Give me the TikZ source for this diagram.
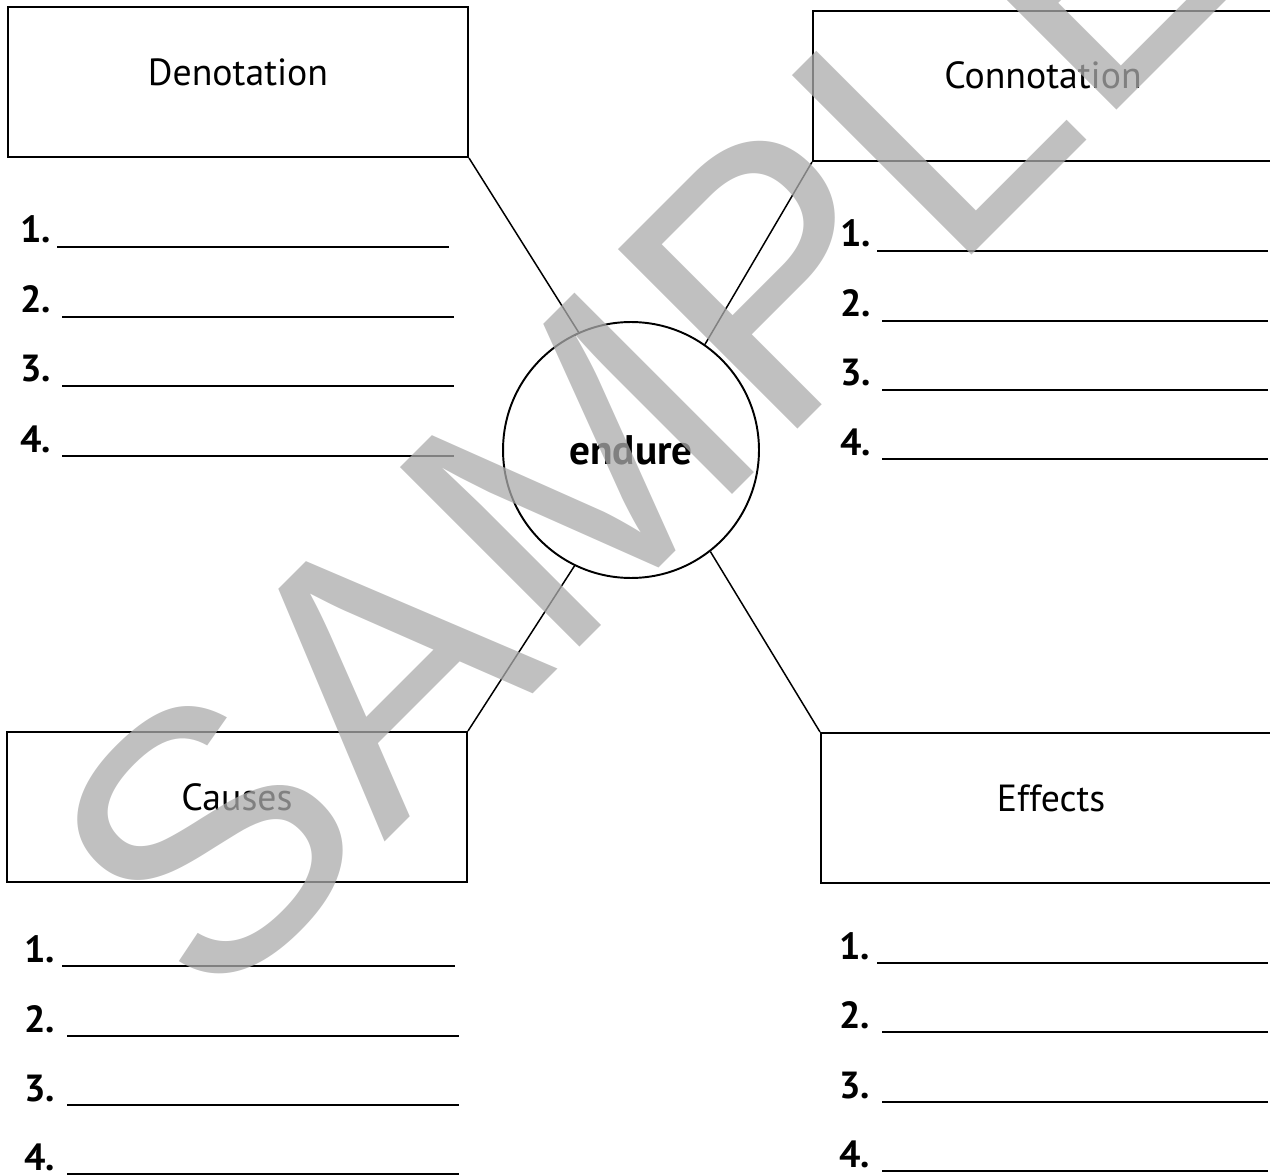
\documentclass[tikz,border=0pt]{standalone}
\usepackage{fontspec}
\setmainfont{PT Sans}
\newfontfamily\wmfont{Liberation Sans}
\usetikzlibrary{positioning}
\definecolor{wmgray}{gray}{0.67}

\tikzset{
  catbox/.style={draw, line width=1.2pt, minimum width=9.2cm, minimum height=3cm, inner sep=0pt},
  cattext/.style={font=\fontsize{21.5}{24}\selectfont, inner sep=0pt},
  hubnode/.style={draw, circle, line width=1.1pt, minimum size=5.12cm, inner sep=0pt, font=\fontsize{23.5}{26}\selectfont\bfseries},
  numlab/.style={font=\fontsize{21.5}{24}\selectfont\bfseries, inner sep=0pt, anchor=base west},
  blank/.style={line width=1.1pt},
  spoke/.style={line width=0.85pt},
  wmark/.style={rotate=45, anchor=base, inner sep=0pt, text=wmgray, text opacity=0.75, font=\wmfont\fontsize{210}{210}\selectfont}
}

\begin{document}
\begin{tikzpicture}[x=0.02cm, y=-0.02cm]
  \useasboundingbox (0,0) rectangle (1270,1175);
  \clip (0,0) rectangle (1270,1175);

  % boxes
  \node[catbox] (deno) at (238,82) {};
  \node[cattext] (denolab) at ([yshift=0.2cm]deno.center) {Denotation};
  \node[catbox] (conno) at (1043,86) {};
  \node[cattext] (connolab) at ([yshift=0.22cm]conno.center) {Connotation};
  \node[catbox] (cause) at (237,807) {};
  \node[cattext] (causelab) at ([yshift=0.2cm]cause.center) {Causes};
  \node[catbox] (effect) at (1051,808) {};
  \node[cattext] (effectlab) at ([yshift=0.2cm]effect.center) {Effects};

  % word in the middle
  \node[hubnode] (hub) at (631,450) {endure};
  \draw[spoke] (deno.south east) -- (hub.114);
  \draw[spoke] (conno.south west) -- (hub.55);
  \draw[spoke] (hub.244) -- (cause.north east);
  \draw[spoke] (hub.-52) -- (effect.north west);

  % denotation list
  \node[numlab] (tl1) at (20,243) {1.};
  \draw[blank] (57,247) -- (449,247);
  \node[numlab] (tl2) at (20,313) {2.};
  \draw[blank] (62,317) -- (454,317);
  \node[numlab] (tl3) at (20,382) {3.};
  \draw[blank] (62,386) -- (454,386);
  \node[numlab] (tl4) at (20,452) {4.};
  \draw[blank] (62,456) -- (454,456);

  % connotation list
  \node[numlab] (tr1) at (840,247) {1.};
  \draw[blank] (877,251) -- (1268,251);
  \node[numlab] (tr2) at (840,317) {2.};
  \draw[blank] (882,321) -- (1268,321);
  \node[numlab] (tr3) at (840,386) {3.};
  \draw[blank] (882,390) -- (1268,390);
  \node[numlab] (tr4) at (840,455) {4.};
  \draw[blank] (882,459) -- (1268,459);

  % causes list
  \node[numlab] (bl1) at (24,962) {1.};
  \draw[blank] (62,966) -- (455,966);
  \node[numlab] (bl2) at (24,1032) {2.};
  \draw[blank] (67,1036) -- (459,1036);
  \node[numlab] (bl3) at (24,1101) {3.};
  \draw[blank] (67,1105) -- (459,1105);
  \node[numlab] (bl4) at (24,1170) {4.};
  \draw[blank] (67,1174) -- (459,1174);

  % effects list
  \node[numlab] (br1) at (839,959) {1.};
  \draw[blank] (877,963) -- (1268,963);
  \node[numlab] (br2) at (839,1028) {2.};
  \draw[blank] (882,1032) -- (1268,1032);
  \node[numlab] (br3) at (839,1098) {3.};
  \draw[blank] (882,1102) -- (1268,1102);
  \node[numlab] (br4) at (839,1167) {4.};
  \draw[blank] (882,1171) -- (1268,1171);

  % watermark on top
  \node[wmark] (sample) at (740,487) {SAMPLE};
\end{tikzpicture}
\end{document}
